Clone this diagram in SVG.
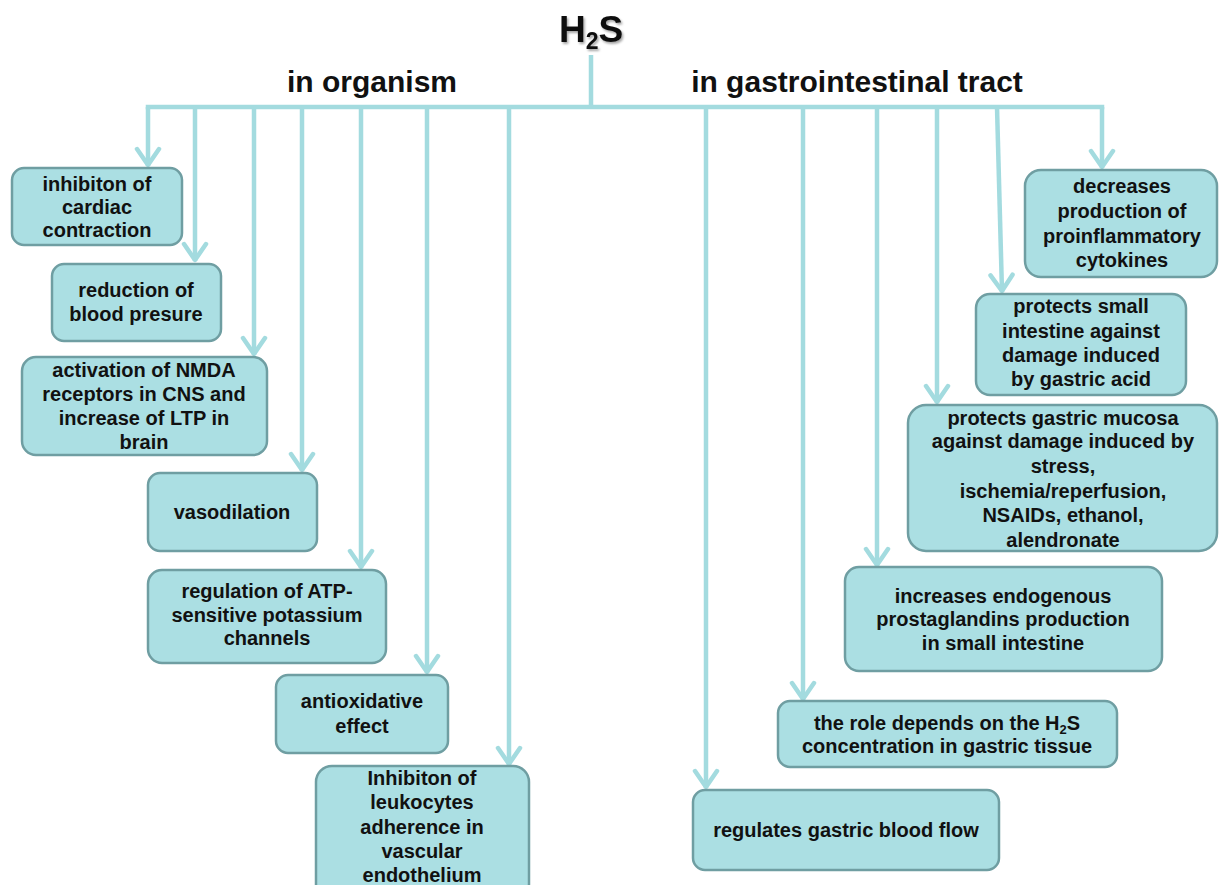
<svg xmlns="http://www.w3.org/2000/svg" width="1219" height="885" viewBox="0 0 1219 885">
<defs>
<marker id="ah" markerUnits="userSpaceOnUse" markerWidth="40" markerHeight="40" viewBox="-20 -20 40 40" refX="0" refY="0" orient="auto">
<path d="M-17,-11 L-1,0 L-17,11" fill="none" stroke="#a3dbdf" stroke-width="4.5" stroke-linecap="round" stroke-linejoin="round"/>
</marker>
<filter id="sh" x="-20%" y="-20%" width="140%" height="140%">
<feDropShadow dx="1.5" dy="2" stdDeviation="1.2" flood-color="#000" flood-opacity="0.35"/>
</filter>
</defs>
<style>
.ln{fill:none;stroke:#a3dbdf;stroke-width:4.5}
.bx{fill:#abdfe3;stroke:#6f9ea2;stroke-width:2.5}
.t{font-family:"Liberation Sans",Arial,sans-serif;font-weight:bold;font-size:20px;fill:#111;text-anchor:middle}
.h{font-family:"Liberation Sans",Arial,sans-serif;font-weight:bold;font-size:30px;fill:#111;text-anchor:middle}
</style>
<rect width="1219" height="885" fill="#fff"/>
<g id="connectors">
<path class="ln" d="M148,107 H1102" stroke-linecap="square"/>
<path class="ln" d="M591,55 V107"/>
<path class="ln" marker-end="url(#ah)" d="M148,107 V166"/>
<path class="ln" marker-end="url(#ah)" d="M195,107 V261"/>
<path class="ln" marker-end="url(#ah)" d="M254,107 V355"/>
<path class="ln" marker-end="url(#ah)" d="M302,107 V471"/>
<path class="ln" marker-end="url(#ah)" d="M361,107 V568"/>
<path class="ln" marker-end="url(#ah)" d="M427,107 V673"/>
<path class="ln" marker-end="url(#ah)" d="M509,107 V765"/>
<path class="ln" marker-end="url(#ah)" d="M706,107 V788"/>
<path class="ln" marker-end="url(#ah)" d="M803,107 V700"/>
<path class="ln" marker-end="url(#ah)" d="M877,107 V566"/>
<path class="ln" marker-end="url(#ah)" d="M937,107 V403"/>
<path class="ln" marker-end="url(#ah)" d="M997,107 L1002,292"/>
<path class="ln" marker-end="url(#ah)" d="M1102,107 V168"/>
</g>
<g id="title">
<text class="h" x="591" y="42" style="font-size:37px" filter="url(#sh)">H<tspan style="font-size:23px" dy="7">2</tspan><tspan dy="-7">S</tspan></text>
</g>
<g id="hdr-organism"><text class="h" x="372" y="92">in organism</text></g>
<g id="hdr-gi"><text class="h" x="857" y="92">in gastrointestinal tract</text></g>

<g id="n1">
<rect class="bx" x="12" y="168" width="170" height="77" rx="12"/>
<text class="t"><tspan x="97" y="191">inhibiton of</tspan><tspan x="97" y="214">cardiac</tspan><tspan x="97" y="237">contraction</tspan></text>
</g>
<g id="n2">
<rect class="bx" x="52" y="264" width="169" height="77" rx="12"/>
<text class="t"><tspan x="136" y="297">reduction of</tspan><tspan x="136" y="321">blood presure</tspan></text>
</g>
<g id="n3">
<rect class="bx" x="22" y="357" width="245" height="98" rx="14"/>
<text class="t"><tspan x="144" y="377">activation of NMDA</tspan><tspan x="144" y="401">receptors in CNS and</tspan><tspan x="144" y="425">increase of LTP in</tspan><tspan x="144" y="449">brain</tspan></text>
</g>
<g id="n4">
<rect class="bx" x="148" y="473" width="169" height="78" rx="12"/>
<text class="t" x="232" y="519">vasodilation</text>
</g>
<g id="n5">
<rect class="bx" x="148" y="570" width="238" height="93" rx="14"/>
<text class="t"><tspan x="267" y="598">regulation of ATP-</tspan><tspan x="267" y="622">sensitive potassium</tspan><tspan x="267" y="645">channels</tspan></text>
</g>
<g id="n6">
<rect class="bx" x="276" y="675" width="172" height="78" rx="12"/>
<text class="t"><tspan x="362" y="708">antioxidative</tspan><tspan x="362" y="733">effect</tspan></text>
</g>
<g id="n7">
<rect class="bx" x="316" y="766" width="213" height="134" rx="16"/>
<text class="t"><tspan x="422" y="785">Inhibiton of</tspan><tspan x="422" y="809">leukocytes</tspan><tspan x="422" y="834">adherence in</tspan><tspan x="422" y="858">vascular</tspan><tspan x="422" y="882">endothelium</tspan></text>
</g>
<g id="n8">
<rect class="bx" x="693" y="790" width="306" height="80" rx="12"/>
<text class="t" x="846" y="837">regulates gastric blood flow</text>
</g>
<g id="n9">
<rect class="bx" x="778" y="701" width="339" height="66" rx="12"/>
<text class="t"><tspan x="947" y="730">the role depends on the H<tspan style="font-size:13px" dy="4">2</tspan><tspan dy="-4">S</tspan></tspan><tspan x="947" y="753">concentration in gastric tissue</tspan></text>
</g>
<g id="n10">
<rect class="bx" x="845" y="567" width="317" height="104" rx="14"/>
<text class="t"><tspan x="1003" y="603">increases endogenous</tspan><tspan x="1003" y="626">prostaglandins production</tspan><tspan x="1003" y="650">in small intestine</tspan></text>
</g>
<g id="n11">
<rect class="bx" x="908" y="405" width="309" height="146" rx="18"/>
<text class="t"><tspan x="1063" y="425">protects gastric mucosa</tspan><tspan x="1063" y="448">against damage induced by</tspan><tspan x="1063" y="473">stress,</tspan><tspan x="1063" y="498">ischemia/reperfusion,</tspan><tspan x="1063" y="522">NSAIDs, ethanol,</tspan><tspan x="1063" y="547">alendronate</tspan></text>
</g>
<g id="n12">
<rect class="bx" x="976" y="294" width="210" height="101" rx="14"/>
<text class="t"><tspan x="1081" y="313">protects small</tspan><tspan x="1081" y="338">intestine against</tspan><tspan x="1081" y="362">damage induced</tspan><tspan x="1081" y="386">by gastric acid</tspan></text>
</g>
<g id="n13">
<rect class="bx" x="1025" y="170" width="192" height="107" rx="16"/>
<text class="t"><tspan x="1122" y="193">decreases</tspan><tspan x="1122" y="218">production of</tspan><tspan x="1122" y="243">proinflammatory</tspan><tspan x="1122" y="267">cytokines</tspan></text>
</g>
</svg>
